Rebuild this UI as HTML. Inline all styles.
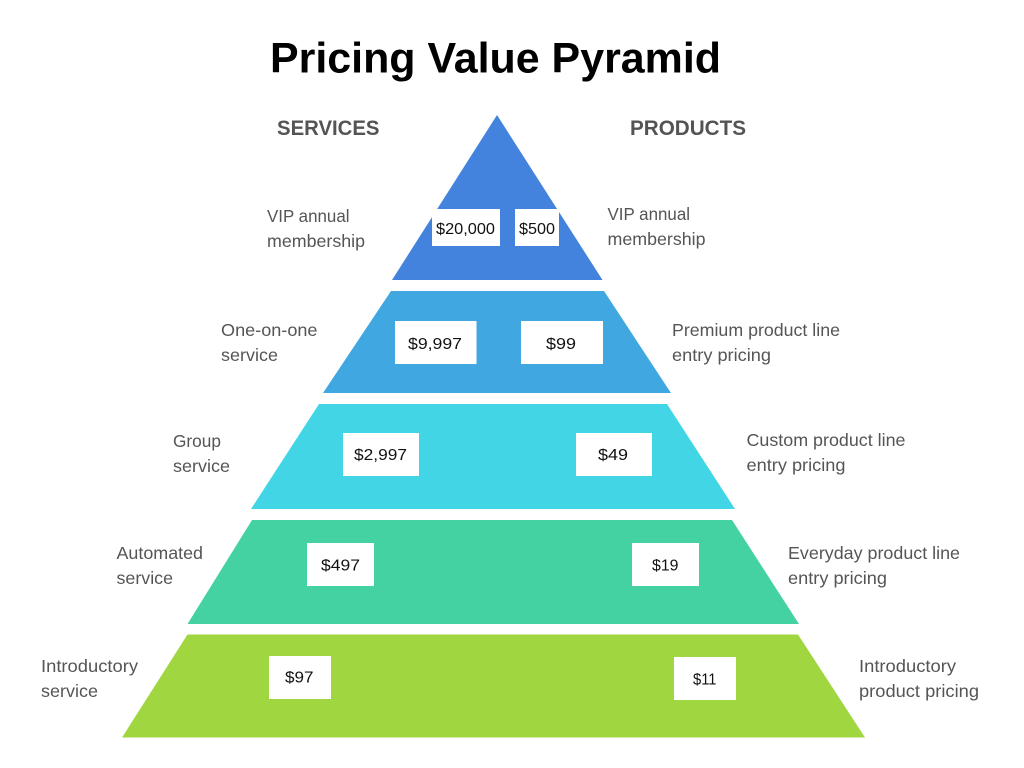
<!DOCTYPE html>
<html><head><meta charset="utf-8"><title>Pricing Value Pyramid</title>
<style>html,body{margin:0;padding:0;background:#fff}svg{display:block}
text{font-family:"Liberation Sans",sans-serif}
.l{font-size:17.5px;fill:#555}.p{font-size:16px;fill:#111}.h{font-size:21px;font-weight:bold;fill:#545454}</style></head>
<body><svg width="1024" height="768" viewBox="0 0 1024 768" xmlns="http://www.w3.org/2000/svg">
<rect width="1024" height="768" fill="#fff"/>
<text x="270" y="72.5" font-size="43" font-weight="bold" fill="#000" textLength="451" lengthAdjust="spacingAndGlyphs">Pricing Value Pyramid</text>
<text class="h" x="277" y="135" textLength="102.5" lengthAdjust="spacingAndGlyphs">SERVICES</text>
<text class="h" x="630" y="135" textLength="116" lengthAdjust="spacingAndGlyphs">PRODUCTS</text>
<polygon points="497,115 602.5,280 392,280" fill="#4382dd"/>
<polygon points="391,291 604,291 671,393 323,393" fill="#41a7e1"/>
<polygon points="319,404 667,404 735,509 251,509" fill="#41d5e5"/>
<polygon points="252,520 732,520 799,624 187.5,624" fill="#44d2a2"/>
<polygon points="187.5,634.5 798,634.5 865,737.5 122,737.5" fill="#a0d640"/>
<g fill="#fff">
<rect x="432" y="209" width="68" height="37"/><rect x="515" y="209" width="44" height="37"/>
<rect x="395" y="321" width="81.5" height="43"/><rect x="521" y="321" width="82" height="43"/>
<rect x="343" y="433" width="76" height="43"/><rect x="576" y="433" width="76" height="43"/>
<rect x="307" y="543" width="67" height="43"/><rect x="632" y="543" width="67" height="43"/>
<rect x="269" y="656" width="62" height="43"/><rect x="674" y="657" width="62" height="43"/>
</g>
<text class="p" x="436" y="234" textLength="59" lengthAdjust="spacingAndGlyphs">$20,000</text>
<text class="p" x="519" y="234" textLength="36" lengthAdjust="spacingAndGlyphs">$500</text>
<text class="p" x="408" y="349" textLength="54" lengthAdjust="spacingAndGlyphs">$9,997</text>
<text class="p" x="546" y="349" textLength="30" lengthAdjust="spacingAndGlyphs">$99</text>
<text class="p" x="354" y="460" textLength="53" lengthAdjust="spacingAndGlyphs">$2,997</text>
<text class="p" x="598" y="460" textLength="30" lengthAdjust="spacingAndGlyphs">$49</text>
<text class="p" x="321" y="570.5" textLength="39" lengthAdjust="spacingAndGlyphs">$497</text>
<text class="p" x="652" y="570.5" textLength="26.5" lengthAdjust="spacingAndGlyphs">$19</text>
<text class="p" x="285" y="682.5" textLength="28.5" lengthAdjust="spacingAndGlyphs">$97</text>
<text class="p" x="693" y="684.5" textLength="23.5" lengthAdjust="spacingAndGlyphs">$11</text>
<text class="l" x="267" y="222" textLength="82.5" lengthAdjust="spacingAndGlyphs">VIP annual</text>
<text class="l" x="267" y="247" textLength="98" lengthAdjust="spacingAndGlyphs">membership</text>
<text class="l" x="221" y="336" textLength="96.5" lengthAdjust="spacingAndGlyphs">One-on-one</text>
<text class="l" x="221" y="361" textLength="57" lengthAdjust="spacingAndGlyphs">service</text>
<text class="l" x="173" y="447" textLength="48" lengthAdjust="spacingAndGlyphs">Group</text>
<text class="l" x="173" y="472" textLength="57" lengthAdjust="spacingAndGlyphs">service</text>
<text class="l" x="116.5" y="559" textLength="86.5" lengthAdjust="spacingAndGlyphs">Automated</text>
<text class="l" x="116.5" y="584" textLength="56.5" lengthAdjust="spacingAndGlyphs">service</text>
<text class="l" x="41" y="672" textLength="97" lengthAdjust="spacingAndGlyphs">Introductory</text>
<text class="l" x="41" y="697" textLength="57" lengthAdjust="spacingAndGlyphs">service</text>
<text class="l" x="607.5" y="220" textLength="82.5" lengthAdjust="spacingAndGlyphs">VIP annual</text>
<text class="l" x="607.5" y="245" textLength="98" lengthAdjust="spacingAndGlyphs">membership</text>
<text class="l" x="672" y="336" textLength="168" lengthAdjust="spacingAndGlyphs">Premium product line</text>
<text class="l" x="672" y="361" textLength="99" lengthAdjust="spacingAndGlyphs">entry pricing</text>
<text class="l" x="746.5" y="446" textLength="159" lengthAdjust="spacingAndGlyphs">Custom product line</text>
<text class="l" x="746.5" y="471" textLength="99" lengthAdjust="spacingAndGlyphs">entry pricing</text>
<text class="l" x="788" y="559" textLength="172" lengthAdjust="spacingAndGlyphs">Everyday product line</text>
<text class="l" x="788" y="584" textLength="99" lengthAdjust="spacingAndGlyphs">entry pricing</text>
<text class="l" x="859" y="672" textLength="97" lengthAdjust="spacingAndGlyphs">Introductory</text>
<text class="l" x="859" y="697" textLength="120" lengthAdjust="spacingAndGlyphs">product pricing</text>
</svg></body></html>
